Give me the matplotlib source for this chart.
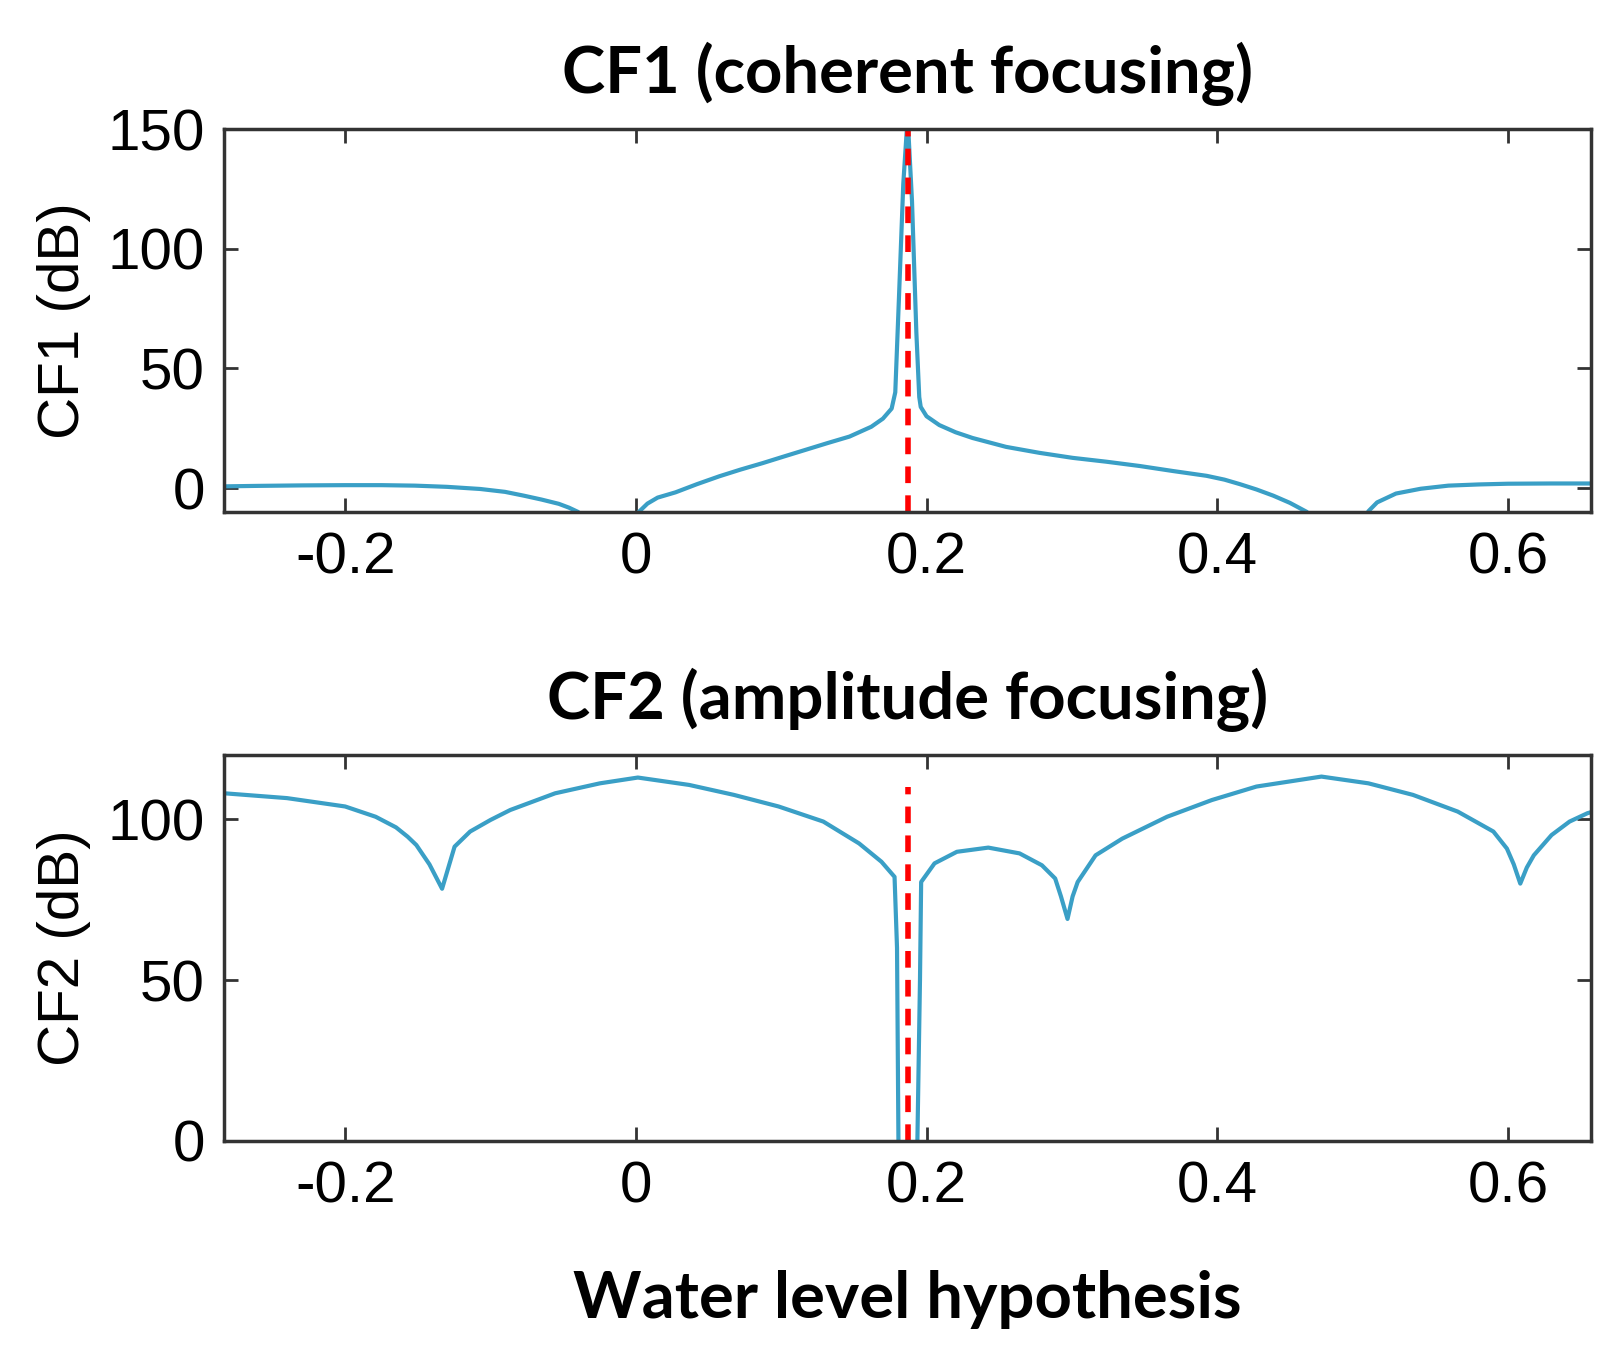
import matplotlib
matplotlib.use("Agg")
import matplotlib.pyplot as plt
from matplotlib import font_manager as fm

# ---------------- data ----------------
cf1_x = [-0.283, -0.26, -0.23, -0.2, -0.175, -0.152, -0.13, -0.107, -0.09, -0.077,
         -0.065, -0.053, -0.046, -0.0397, -0.03, -0.01, 0.002, 0.008, 0.015, 0.0273,
         0.042, 0.0574, 0.072, 0.0872, 0.102, 0.117, 0.132, 0.147, 0.162, 0.17,
         0.176, 0.1785, 0.181, 0.184, 0.187, 0.190, 0.193, 0.195, 0.196, 0.2,
         0.2088, 0.22, 0.2317, 0.2547, 0.2777, 0.3006, 0.3237, 0.3467, 0.3696, 0.3927,
         0.405, 0.4157, 0.427, 0.4386, 0.45, 0.4617, 0.475, 0.495, 0.504, 0.51,
         0.523, 0.54, 0.559, 0.58, 0.6, 0.63, 0.657]
cf1_y = [0.7, 0.9, 1.1, 1.2, 1.2, 1.0, 0.5, -0.4, -1.6, -3.2,
         -4.8, -6.6, -8.2, -10.0, -25.0, -25.0, -10.0, -6.5, -4.0, -1.8,
         1.6, 4.9, 7.7, 10.4, 13.2, 16.0, 18.8, 21.5, 25.6, 29.0,
         33.2, 40.0, 79.0, 127.0, 155.0, 120.0, 65.0, 38.0, 33.9, 30.0,
         26.3, 23.3, 20.9, 17.2, 14.7, 12.6, 11.0, 9.2, 7.1, 5.1,
         3.5, 1.6, -0.6, -3.2, -6.2, -10.0, -25.0, -25.0, -9.7, -6.0,
         -2.3, -0.3, 1.0, 1.5, 1.8, 1.9, 1.9]

cf2_x = [-0.283, -0.24, -0.2, -0.179, -0.165, -0.157, -0.151, -0.142, -0.1333, -0.1247,
         -0.114, -0.1, -0.0864, -0.0555, -0.0247, 0.0014, 0.0367, 0.0675, 0.0982, 0.129,
         0.1536, 0.169, 0.178, 0.1797, 0.181, 0.187, 0.193, 0.1955, 0.1963, 0.2055,
         0.2209, 0.2425, 0.264, 0.2794, 0.2885, 0.2925, 0.297, 0.3005, 0.304, 0.3163,
         0.3347, 0.3655, 0.3963, 0.427, 0.4717, 0.504, 0.5347, 0.5655, 0.59, 0.5993,
         0.604, 0.6085, 0.613, 0.6178, 0.63, 0.6424, 0.6547, 0.657]
cf2_y = [108.1, 106.6, 104.0, 100.8, 97.5, 94.6, 92.0, 86.0, 78.4, 91.5,
         96.2, 99.8, 102.9, 108.1, 111.2, 113.0, 110.7, 107.6, 104.0, 99.3,
         92.5, 86.8, 82.1, 60.0, -20.0, -40.0, -20.0, 50.0, 80.5, 86.3,
         89.9, 91.2, 89.4, 85.7, 81.6, 76.0, 69.0, 76.0, 80.5, 88.8,
         94.0, 100.8, 106.0, 110.2, 113.3, 111.2, 107.6, 102.4, 96.2, 90.9,
         86.0, 80.0, 85.0, 88.8, 95.1, 99.3, 101.9, 102.2]

true_level = 0.187
x_ticks = [-0.2, 0.0, 0.2, 0.4, 0.6]
x_tick_labels = ["-0.2", "0", "0.2", "0.4", "0.6"]
cf1_yticks = [0, 50, 100, 150]
cf2_yticks = [0, 50, 100]
titles = ["CF1 (coherent focusing)", "CF2 (amplitude focusing)"]
ylabels = ["CF1 (dB)", "CF2 (dB)"]
xlabel = "Water level hypothesis"

# ---------------- fonts ----------------
avail = {f.name for f in fm.fontManager.ttflist}
tick_font = "Liberation Sans Narrow" if "Liberation Sans Narrow" in avail else "Liberation Sans"
title_font = "Lato" if "Lato" in avail else "DejaVu Sans"

line_color = "#3a9fc6"
frame_color = "#333333"

fig = plt.figure(figsize=(16.15, 13.58), dpi=100)
ax1 = fig.add_axes([0.139, 0.623, 0.846, 0.282])
ax2 = fig.add_axes([0.139, 0.160, 0.846, 0.284])

for ax, xs, ys, yt, ylim, title, ylab, red_top in [
        (ax1, cf1_x, cf1_y, cf1_yticks, (-10, 150), titles[0], ylabels[0], 150),
        (ax2, cf2_x, cf2_y, cf2_yticks, (0, 120), titles[1], ylabels[1], 110)]:
    ax.plot(xs, ys, color=line_color, lw=3.0)
    ax.plot([true_level, true_level], [ylim[0], red_top], color="#ff0000",
            lw=4, dashes=(3, 2.2))
    ax.set_xlim(-0.283, 0.657)
    ax.set_ylim(*ylim)
    ax.set_xticks(x_ticks)
    ax.set_xticklabels(x_tick_labels)
    ax.set_yticks(yt)
    ax.tick_params(direction="in", length=10, width=2, color=frame_color,
                   top=True, right=True, labelsize=42, pad=14)
    for lab in ax.get_xticklabels() + ax.get_yticklabels():
        lab.set_fontfamily(tick_font)
    for s in ax.spines.values():
        s.set_linewidth(2.5)
        s.set_color(frame_color)
    ax.set_title(title, fontsize=47, fontweight="bold", family=title_font, pad=26)
    ax.set_ylabel(ylab, fontsize=42, family=tick_font, labelpad=12)

ax2.set_xlabel(xlabel, fontsize=47, fontweight="bold", family=title_font, labelpad=40)

fig.savefig("out.png", dpi=100)
